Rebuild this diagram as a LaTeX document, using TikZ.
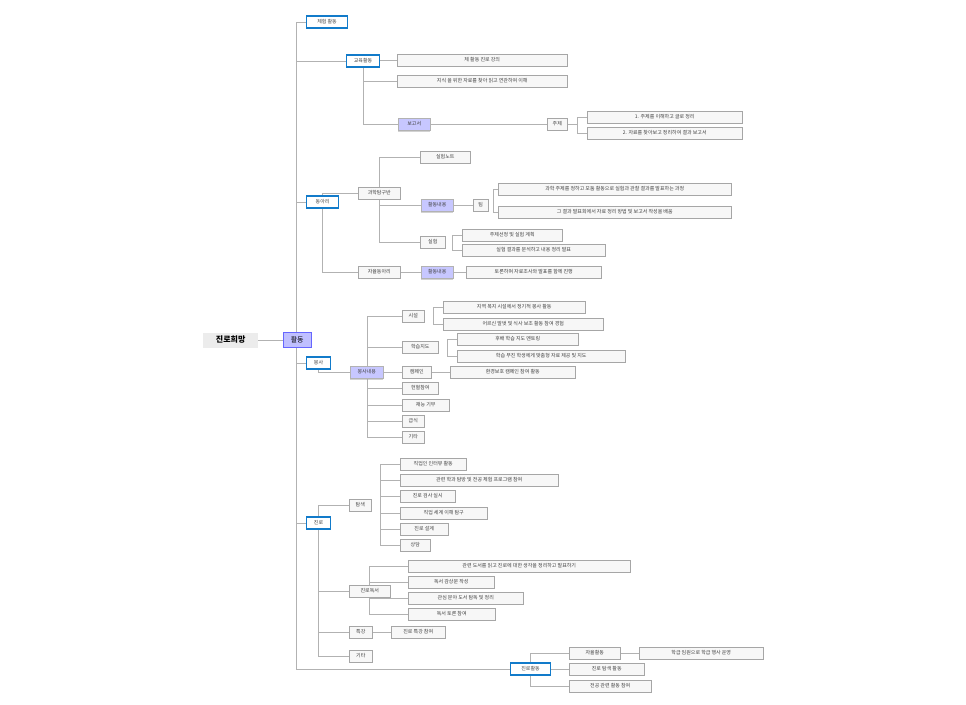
\documentclass[tikz,border=0pt]{standalone}
\usepackage{fontspec}
\newfontfamily\kr{Noto Sans CJK KR}
\usetikzlibrary{backgrounds,shadows}
\tikzset{
 base/.style={anchor=west,inner sep=0pt,minimum height=12pt,font=\kr\fontsize{5}{6}\selectfont,text=black!75},
 leaf/.style={base,draw=gray!70,fill=gray!6,line width=0.5pt},
 bo/.style={base,draw=cyan!60!blue,fill=white,line width=1.1pt},
 bf/.style={base,draw=gray!60,fill=blue!22,drop shadow={shadow xshift=0pt,shadow yshift=-1.5pt,fill=gray!70}},
 ln/.style={draw=gray!60,line width=0.5pt}
}
\newcommand{\bx}[6]{\node[#5,minimum width=#4pt] (#1) at (#2,#3) {#6};}
\newcommand{\cn}[2]{\draw[ln] (#1.west) -- (#1.west -| #2);}
\begin{document}
\begin{tikzpicture}[x=1pt,y=-1pt]
\useasboundingbox (0,0) rectangle (966,704);
% root
\node[base,fill=gray!15,minimum width=55pt,minimum height=15pt,font=\kr\bfseries\fontsize{8}{9}\selectfont,text=black] (root) at (203,340) {진로희망};
\node[base,draw=blue!60,fill=blue!25,minimum width=28pt,minimum height=15pt,font=\kr\fontsize{7}{8}\selectfont,text=black] (act) at (283,340) {활동};
% level 1
\bx{A}{306}{22}{41}{bo}{체험 활동}
\bx{B}{346}{61}{33}{bo}{교육활동}
\bx{B1}{397}{60}{170}{leaf}{체 활동 진로 강의}
\bx{B2}{397}{81}{170}{leaf}{지식 을 위한 자료를 찾아 읽고 연관하여 이해}
\bx{B3}{398}{124}{32}{bf}{보고서}
\bx{R1}{547}{124}{20}{leaf}{주제}
\bx{R1a}{587}{117}{155}{leaf}{1. 주제를 이해하고 글로 정리}
\bx{R1b}{587}{133}{155}{leaf}{2. 자료를 찾아보고 정리하여 결과 보고서}
\bx{C}{306}{202}{32}{bo}{동아리}
\bx{C1}{358}{193}{42}{leaf}{과학탐구반}
\bx{C1a}{420}{157}{50}{leaf}{실험노트}
\bx{C1b}{421}{205}{32}{bf}{활동내용}
\bx{R2}{473}{205}{15}{leaf}{팀}
\bx{R2a}{498}{189}{233}{leaf}{과학 주제를 정하고 모둠 활동으로 실험과 관찰 결과를 발표하는 과정}
\bx{R2b}{498}{212}{233}{leaf}{그 결과 발표회에서 자료 정리 방법 및 보고서 작성을 배움}
\bx{C1c}{420}{242}{25}{leaf}{실험}
\bx{C1ca}{462}{235}{100}{leaf}{주제선정 및 실험 계획}
\bx{C1cb}{462}{250}{143}{leaf}{실험 결과를 분석하고 내용 정리 발표}
\bx{C2}{358}{272}{42}{leaf}{자율동아리}
\bx{C2b}{421}{272}{32}{bf}{활동내용}
\bx{C2c}{466}{272}{135}{leaf}{토론하며 자료조사와 발표를 함께 진행}
\bx{D}{306}{363}{24}{bo}{봉사}
\bx{D1}{350}{372}{33}{bf}{봉사내용}
\bx{d1}{402}{316}{22}{leaf}{시설}
\bx{d1a}{443}{307}{142}{leaf}{지역 복지 시설에서 정기적 봉사 활동}
\bx{d1b}{443}{324}{160}{leaf}{어르신 말벗 및 식사 보조 활동 참여 경험}
\bx{d2}{402}{347}{36}{leaf}{학습지도}
\bx{d2a}{457}{339}{121}{leaf}{후배 학습 지도 멘토링}
\bx{d2b}{457}{356}{168}{leaf}{학습 부진 학생에게 맞춤형 자료 제공 및 지도}
\bx{d3}{402}{372}{29}{leaf}{캠페인}
\bx{d3a}{450}{372}{125}{leaf}{환경보호 캠페인 참여 활동}
\bx{d4}{402}{388}{36}{leaf}{헌혈참여}
\bx{d5}{402}{405}{47}{leaf}{재능 기부}
\bx{d6}{402}{421}{22}{leaf}{급식}
\bx{d7}{402}{437}{22}{leaf}{기타}
\bx{E}{306}{523}{24}{bo}{진로}
\bx{E1}{349}{505}{22}{leaf}{탐색}
\bx{E1a}{400}{464}{66}{leaf}{직업인 인터뷰 활동}
\bx{E1b}{400}{480}{158}{leaf}{관련 학과 탐방 및 전공 체험 프로그램 참여}
\bx{E1c}{400}{496}{55}{leaf}{진로 검사 실시}
\bx{E1d}{400}{513}{87}{leaf}{직업 세계 이해 탐구}
\bx{E1e}{400}{529}{48}{leaf}{진로 설계}
\bx{E1f}{400}{545}{30}{leaf}{상담}
\bx{E2}{349}{591}{41}{leaf}{진로독서}
\bx{E2a}{408}{566}{222}{leaf}{관련 도서를 읽고 진로에 대한 생각을 정리하고 발표하기}
\bx{E2b}{408}{582}{86}{leaf}{독서 감상문 작성}
\bx{E2c}{408}{598}{115}{leaf}{관심 분야 도서 탐독 및 정리}
\bx{E2d}{408}{614}{87}{leaf}{독서 토론 참여}
\bx{E3}{349}{632}{23}{leaf}{특강}
\bx{E3a}{391}{632}{54}{leaf}{진로 특강 참여}
\bx{E4}{349}{656}{23}{leaf}{기타}
\bx{F}{510}{669}{40}{bo}{진로활동}
\bx{F1}{569}{653}{51}{leaf}{자율활동}
\bx{F1a}{639}{653}{124}{leaf}{학급 임원으로 학급 행사 운영}
\bx{F2}{569}{669}{75}{leaf}{진로 탐색 활동}
\bx{F3}{569}{686}{82}{leaf}{전공 관련 활동 참여}
% spines
\coordinate (ms) at (296,0);
\coordinate (sB) at (363,0);
\coordinate (sR1) at (577,0);
\coordinate (sC) at (322,0);
\coordinate (sC1) at (379,0);
\coordinate (sR2) at (493,0);
\coordinate (sC1c) at (452,0);
\coordinate (sD) at (318,0);
\coordinate (sD1) at (367,0);
\coordinate (sd1) at (433,0);
\coordinate (sd2) at (447,0);
\coordinate (sE) at (318,0);
\coordinate (sE1) at (380,0);
\coordinate (sE2) at (369,0);
\coordinate (sF) at (530,0);
\begin{scope}[on background layer]
\draw[ln] (root.east) -- (act.west);
\draw[ln] (A.west -| ms) -- (F.west -| ms);
\cn{A}{ms}\cn{B}{ms}\cn{C}{ms}\cn{D}{ms}\cn{E}{ms}\cn{F}{ms}
\draw[ln] (B.south -| sB) -- (B3.west -| sB);
\cn{B1}{B}\cn{B2}{sB}\cn{B3}{sB}
\draw[ln] (B3.east) -- (R1.west);
\draw[ln] (R1a.west -| sR1) -- (R1b.west -| sR1); \draw[ln] (R1.east) -- (R1.east -| sR1);
\cn{R1a}{sR1}\cn{R1b}{sR1}
\draw[ln] (C1.west -| sC) -- (C2.west -| sC); \cn{C1}{sC}\cn{C2}{sC}
\draw[ln] (C1a.west -| sC1) -- (C1c.west -| sC1); \cn{C1a}{sC1}\cn{C1b}{sC1}\cn{C1c}{sC1}
\draw[ln] (C1b.east) -- (R2.west);
\draw[ln] (R2a.west -| sR2) -- (R2b.west -| sR2); \cn{R2a}{sR2}\cn{R2b}{sR2}
\draw[ln] (C1ca.west -| sC1c) -- (C1cb.west -| sC1c); \cn{C1ca}{sC1c}\cn{C1cb}{sC1c}
\draw[ln] (C2.east) -- (C2b.west); \draw[ln] (C2b.east) -- (C2c.west);
\draw[ln] (D.south -| sD) |- (D1.west);
\draw[ln] (d1.west -| sD1) -- (d7.west -| sD1);
\cn{d1}{sD1}\cn{d2}{sD1}\cn{d3}{sD1}\cn{d4}{sD1}\cn{d5}{sD1}\cn{d6}{sD1}\cn{d7}{sD1}
\draw[ln] (d1a.west -| sd1) -- (d1b.west -| sd1); \cn{d1a}{sd1}\cn{d1b}{sd1}
\draw[ln] (d2a.west -| sd2) -- (d2b.west -| sd2); \cn{d2a}{sd2}\cn{d2b}{sd2}
\draw[ln] (d3.east) -- (d3a.west);
\draw[ln] (E1.west -| sE) -- (E4.west -| sE); \cn{E1}{sE}\cn{E2}{sE}\cn{E3}{sE}\cn{E4}{sE}
\draw[ln] (E1a.west -| sE1) -- (E1f.west -| sE1);
\cn{E1a}{sE1}\cn{E1b}{sE1}\cn{E1c}{sE1}\cn{E1d}{sE1}\cn{E1e}{sE1}\cn{E1f}{sE1}
\draw[ln] (E2a.west -| sE2) -- (E2d.west -| sE2);
\cn{E2a}{sE2}\cn{E2b}{sE2}\cn{E2c}{sE2}\cn{E2d}{sE2}
\draw[ln] (E3.east) -- (E3a.west);
\draw[ln] (F1.west -| sF) -- (F3.west -| sF); \cn{F1}{sF}\cn{F2}{sF}\cn{F3}{sF}
\draw[ln] (F1.east) -- (F1a.west);
\end{scope}
\end{tikzpicture}
\end{document}
